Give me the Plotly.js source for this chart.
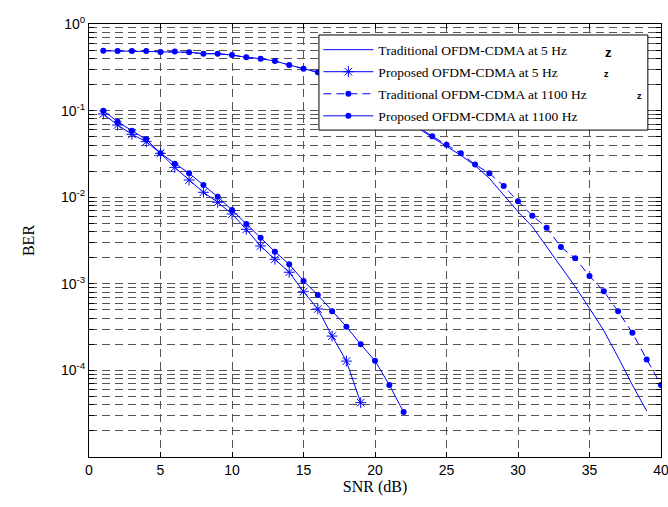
<!DOCTYPE html>
<html>
<head>
<meta charset="utf-8">
<script src="https://cdn.plot.ly/plotly-3.0.1.min.js"></script>
<style>html,body{margin:0;padding:0;background:#fff;}#chart{width:668px;height:507px;}</style>
</head>
<body>
<div id="chart"></div>
<script>
// ---- data ----
const snrTrad1100 = [1,2,3,4,5,6,7,8,9,10,11,12,13,14,15,16,17,18,19,20,21,22,23,24,25,26,27,28,29,30,31,32,33,34,35,36,37,38,39,40];
const berTrad1100 = [0.492,0.488,0.488,0.488,0.475,0.48,0.471,0.454,0.454,0.438,0.412,0.398,0.374,0.336,0.305,0.277,
  0.240,0.204,0.170,0.138,0.110,0.0851,0.0646,0.0507,
  0.0404,0.0321,0.0238,0.0189,0.0135,0.00895,0.00612,0.00445,0.00266,0.00197,0.00123,0.000819,0.000481,0.000272,0.000134,0.000068];

const snrTrad5 = [1,2,3,4,5,6,7,8,9,10,11,12,13,14,15,16,17,18,19,20,21,22,23,24,25,26,27,28,29,30,31,32,33,34,35,36,37,38,39];
const berTrad5 = [0.492,0.488,0.488,0.488,0.475,0.48,0.471,0.454,0.454,0.438,0.412,0.398,0.374,0.336,0.305,0.277,
  0.240,0.204,0.170,0.138,0.110,0.0845,0.063,0.049,
  0.039,0.0305,0.0232,0.0165,0.0106,0.0068,0.00457,0.00269,0.00158,0.000927,0.000521,0.000288,0.000142,0.0000678,0.000034];

const snrProp1100 = [1,2,3,4,5,6,7,8,9,10,11,12,13,14,15,16,17,18,19,20,21,22];
const berProp1100 = [0.0998,0.0745,0.0586,0.0466,0.0321,0.0244,0.0189,0.0138,0.0101,0.00711,0.00491,0.0034,0.00235,0.00168,0.00108,0.000743,0.000481,0.00032,0.0002,0.000129,0.000068,0.000033];

const snrProp5 = [1,2,3,4,5,6,7,8,9,10,11,12,13,14,15,16,17,18,19];
const berProp5 = [0.0914,0.0682,0.0532,0.0438,0.0321,0.0221,0.0158,0.0114,0.00873,0.0064,0.00426,0.00273,0.00192,0.00136,0.00081,0.000512,0.000249,0.000128,0.0000424];

const seriesNames = ['Traditional OFDM-CDMA at 5 Hz','Proposed OFDM-CDMA at 5 Hz','Traditional OFDM-CDMA at 1100 Hz','Proposed OFDM-CDMA at 1100 Hz'];

const xTickVals = [0,5,10,15,20,25,30,35,40];
const decadeExps = [-5,-4,-3,-2,-1,0];
const decadeLabels = ['','10<sup>-4</sup>','10<sup>-3</sup>','10<sup>-2</sup>','10<sup>-1</sup>','10<sup>0</sup>'];

// build y ticks: every 1..9 multiple of each decade, labelled only at decades
const yTickVals = [], yTickText = [];
decadeExps.forEach((e, i) => {
  const maxM = (e === 0) ? 1 : 9;
  for (let m = 1; m <= maxM; m++) {
    yTickVals.push(m * Math.pow(10, e));
    yTickText.push(m === 1 ? decadeLabels[i] : '');
  }
});

const blue = '#0000ff';
const traces = [
  {x: snrTrad5, y: berTrad5, name: seriesNames[0], legendgroup: 'a', mode: 'lines',
   line: {color: blue, width: 1}},
  {x: snrProp5, y: berProp5, name: seriesNames[1], legendgroup: 'b', mode: 'lines+markers',
   line: {color: blue, width: 1}, marker: {symbol: 'asterisk-open', size: 9, color: blue, line: {color: blue, width: 1}}},
  {x: snrTrad1100, y: berTrad1100, name: seriesNames[2], legendgroup: 'c', mode: 'lines+markers',
   line: {color: blue, width: 1, dash: '8px,5px'}, marker: {symbol: 'circle', size: 6, color: blue}},
  {x: snrProp1100, y: berProp1100, name: seriesNames[3], legendgroup: 'd', mode: 'lines+markers',
   line: {color: blue, width: 1}, marker: {symbol: 'circle', size: 6, color: blue}}
];

const gridColor = '#555555';
const layout = {
  width: 668, height: 507,
  margin: {l: 89, r: 7, t: 24, b: 50},
  paper_bgcolor: '#ffffff', plot_bgcolor: '#ffffff',
  showlegend: true,
  legend: {
    x: 0.401, y: 0.976, xanchor: 'left', yanchor: 'top',
    bgcolor: 'rgba(0,0,0,0)', borderwidth: 0,
    font: {family: 'Liberation Serif, Times New Roman, serif', size: 13.5, color: '#000'},
    itemwidth: 50, traceorder: 'grouped', tracegroupgap: 1.5
  },
  // legend frame (MATLAB-style box, wider than its entries)
  shapes: [
    {type: 'rect', xref: 'paper', yref: 'paper', x0: 0.402, x1: 0.977, y0: 0.755, y1: 0.9746,
     fillcolor: '#ffffff', line: {color: '#000000', width: 1}, layer: 'above'}
  ],
  xaxis: {
    range: [0, 40], tickvals: xTickVals, ticks: 'inside', ticklen: 5, tickcolor: '#000',
    ticklabeloverflow: 'allow',
    showline: true, linecolor: '#000', linewidth: 1, mirror: 'ticks',
    showgrid: true, gridcolor: gridColor, gridwidth: 1, griddash: '8px,5px',
    zeroline: false,
    tickfont: {family: 'Liberation Sans, Arial, sans-serif', size: 14, color: '#000'},
    title: {text: 'SNR (dB)', font: {family: 'Liberation Serif, Times New Roman, serif', size: 16, color: '#000'}, standoff: 4}
  },
  yaxis: {
    type: 'log', range: [-5, 0], tickvals: yTickVals, ticktext: yTickText,
    ticks: 'inside', ticklen: 5, tickcolor: '#000',
    showline: true, linecolor: '#000', linewidth: 1, mirror: 'ticks',
    showgrid: true, gridcolor: gridColor, gridwidth: 1, griddash: '8px,5px',
    zeroline: false,
    tickfont: {family: 'Liberation Sans, Arial, sans-serif', size: 14, color: '#000'},
    title: {text: 'BER', font: {family: 'Liberation Serif, Times New Roman, serif', size: 16, color: '#000'}, standoff: 22}
  },
  annotations: [
    {xref: 'paper', yref: 'paper', x: 0.918, y: 0.955, text: '<b>z</b>', showarrow: false, font: {family: 'Liberation Sans, Arial', size: 13, color: '#000'}},
    {xref: 'paper', yref: 'paper', x: 0.912, y: 0.901, text: '<b>z</b>', showarrow: false, font: {family: 'Liberation Sans, Arial', size: 9, color: '#000'}},
    {xref: 'paper', yref: 'paper', x: 0.970, y: 0.849, text: '<b>z</b>', showarrow: false, font: {family: 'Liberation Sans, Arial', size: 9, color: '#000'}}
  ]
};

Plotly.newPlot('chart', traces, layout, {staticPlot: true, displayModeBar: false});
</script>
</body>
</html>
